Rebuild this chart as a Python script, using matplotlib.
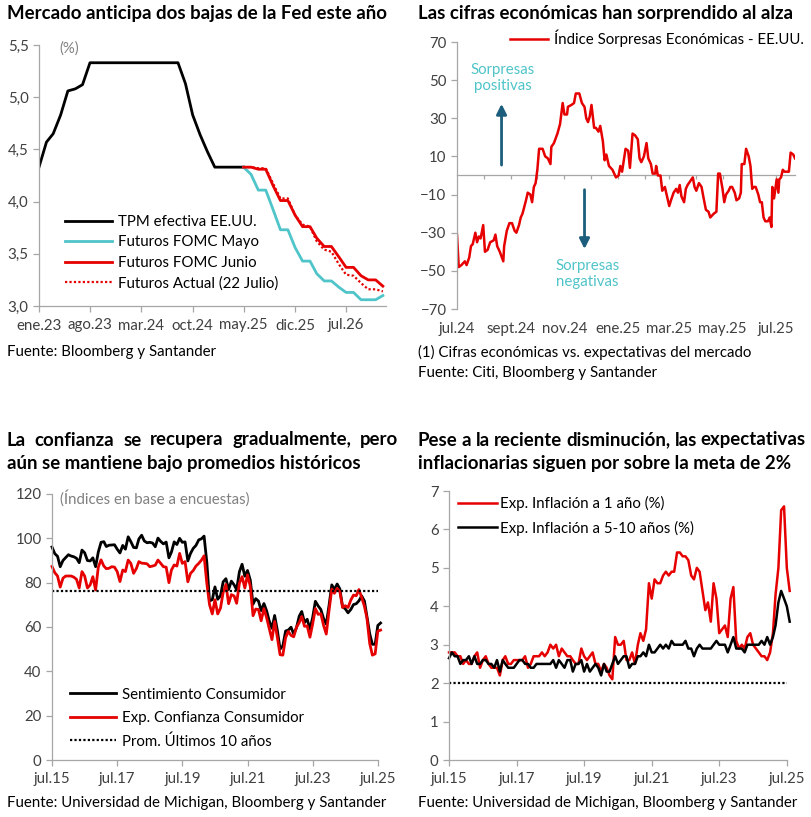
import numpy as np
import pandas as pd
import matplotlib
matplotlib.use("Agg")
import matplotlib.pyplot as plt

plt.rcParams['font.family'] = ['Lato', 'DejaVu Sans']

ROJO = '#E60000'
CIAN = '#4FC4C9'
AZUL_FLECHA = '#1D5E7C'
GRIS = '#A6A6A6'
TXT = '#404040'

# =========================
# Datos panel 1: TPM y futuros (mensual)
# =========================
tpm_fechas = pd.date_range('2023-01-01', '2025-05-01', freq='MS')
tpm_vals = [4.33, 4.57, 4.65, 4.83, 5.06, 5.08, 5.12, 5.33, 5.33, 5.33, 5.33, 5.33,
            5.33, 5.33, 5.33, 5.33, 5.33, 5.33, 5.33, 5.33, 5.13, 4.83, 4.64, 4.48,
            4.33, 4.33, 4.33, 4.33, 4.33]

fut_fechas = pd.date_range('2025-05-01', '2026-12-01', freq='MS')
fut_mayo = [4.33, 4.26, 4.11, 4.11, 3.92, 3.73, 3.73, 3.56, 3.43, 3.43,
            3.31, 3.24, 3.24, 3.18, 3.13, 3.13, 3.06, 3.06, 3.06, 3.10]
fut_junio = [4.33, 4.33, 4.31, 4.31, 4.15, 4.01, 4.01, 3.87, 3.76, 3.76,
             3.65, 3.57, 3.57, 3.47, 3.37, 3.37, 3.29, 3.25, 3.25, 3.19]
fut_actual = [4.33, 4.33, 4.32, 4.32, 4.17, 4.03, 4.03, 3.87, 3.78, 3.76,
              3.62, 3.54, 3.52, 3.40, 3.30, 3.29, 3.22, 3.16, 3.16, 3.14]

p1_ticks = ['2023-01-01', '2023-08-01', '2024-03-01', '2024-10-01',
            '2025-05-01', '2025-12-01', '2026-07-01']
p1_labels = ['ene.23', 'ago.23', 'mar.24', 'oct.24', 'may.25', 'dic.25', 'jul.26']

# =========================
# Datos panel 2: índice sorpresas Citi (días desde 1-jul-2024)
# =========================
sorp_dias = [0, 2, 5, 9, 11, 14, 16, 18, 21, 23, 25, 27, 30, 32, 35, 38, 42, 44, 46, 49,
             53, 54, 57, 60, 63, 66, 68, 71, 73, 75, 79, 81, 84, 86, 88, 90, 92, 94, 98, 101,
             104, 107, 108, 111, 115, 118, 121, 123, 126, 127, 131, 134, 136, 140, 143, 146, 148, 150, 152, 154,
             157, 159, 162, 164, 167, 169, 171, 174, 178, 182, 185, 187, 189, 193, 196, 198, 201, 204, 207, 209,
             211, 214, 217, 219, 222, 224, 227, 228, 230, 233, 235, 238, 240, 243, 245, 248, 251, 253, 255, 257,
             260, 262, 264, 267, 270, 272, 274, 277, 280, 282, 285, 288, 290, 294, 297, 299, 301, 304, 306, 308,
             311, 313, 315, 318, 320, 323, 325, 326, 329, 331, 334, 336, 338, 340, 342, 345, 347, 349, 351, 353,
             356, 358, 360, 361, 363, 366, 368, 369, 371, 373, 375, 378, 380, 382, 385, 387]
sorp_vals = [-31, -48, -47, -45, -47, -43, -37, -36, -30, -35, -32, -33, -26, -40, -39, -35, -34, -31, -37, -40,
             -45, -37, -29, -25, -25, -29, -30, -26, -22, -20, -13, -9, -10, -14, -6, -4, 3, 14, 14, 10,
             9, 6, 15, 17, 22, 27, 38, 32, 32, 36, 37, 38, 43, 43, 38, 36, 30, 28, 31, 37,
             25, 25, 23, 26, 18, 8, 11, 5, 3, -1, 0, 5, 2, 14, 13, 4, 22, 21, 19, 9,
             7, 10, 17, 9, 6, 1, 1, 5, 0, 0, -8, -6, -10, -16, -13, -9, -7, -9, -5, -11,
             -14, -7, -5, -3, -1, -6, -8, -4, -6, -11, -18, -19, -22, -20, -19, 1, 1, -7, -14, -10,
             -8, -6, -6, -9, -13, -12, -9, 6, 6, 14, 10, 5, -7, -6, -6, -10, -14, -14, -22, -24,
             -24, -22, -27, -6, -12, -2, -9, -2, -1, 3, 2, 2, 2, 12, 11, 9]

p2_ticks = ['2024-07-01', '2024-09-01', '2024-11-01', '2025-01-01',
            '2025-03-01', '2025-05-01', '2025-07-01']
p2_labels = ['jul.24', 'sept.24', 'nov.24', 'ene.25', 'mar.25', 'may.25', 'jul.25']

# =========================
# Datos panel 3 y 4: Universidad de Michigan (jun.15 - jul.25, mensual)
# =========================
umich_fechas = pd.date_range('2015-06-30', '2025-07-31', freq='ME')

sentimiento = [96.1, 93.1, 91.9, 87.2, 90.0, 91.3, 92.6,
               92.0, 91.7, 91.0, 89.0, 94.7, 93.5, 90.0, 89.8, 91.2, 87.2, 93.8, 98.2,
               98.5, 96.3, 96.9, 97.0, 97.1, 95.1, 93.4, 96.8, 95.1, 100.7, 98.5, 95.9,
               95.7, 99.7, 101.4, 98.8, 98.0, 98.2, 97.9, 96.2, 100.1, 98.6, 97.5, 98.3,
               91.2, 93.8, 98.4, 97.2, 100.0, 98.2, 98.4, 89.8, 93.2, 95.5, 96.8, 99.3,
               99.8, 101.0, 89.1, 71.8, 72.3, 78.1, 72.5, 74.1, 80.4, 81.8, 76.9, 80.7,
               79.0, 76.8, 84.9, 88.3, 82.9, 85.5, 81.2, 70.3, 72.8, 71.7, 67.4, 70.6,
               67.2, 62.8, 59.4, 65.2, 58.4, 50.0, 51.5, 58.2, 58.6, 59.9, 56.8, 59.7,
               64.9, 67.0, 62.0, 63.5, 59.0, 64.2, 71.6, 69.5, 67.9, 63.8, 61.3, 69.7,
               79.0, 76.9, 79.4, 77.2, 69.1, 68.2, 66.4, 67.9, 70.1, 70.5, 71.8, 74.0,
               71.7, 64.7, 57.0, 52.2, 52.2, 60.7, 61.8]
expectativas = [87.3, 84.5, 83.0, 78.0, 82.0, 83.0, 83.0,
                83.0, 82.5, 81.5, 77.6, 85.0, 83.0, 77.6, 79.0, 82.7, 76.7, 87.0, 90.3,
                87.5, 86.3, 86.5, 87.2, 87.0, 85.0, 80.5, 85.7, 85.0, 90.2, 88.7, 84.2,
                86.4, 89.5, 88.8, 88.7, 88.5, 87.2, 87.5, 87.9, 90.2, 88.7, 87.2, 87.0,
                80.0, 85.7, 88.0, 87.5, 93.2, 88.7, 89.5, 80.4, 84.2, 85.5, 87.5, 88.7,
                90.2, 92.1, 79.7, 70.1, 65.9, 72.3, 65.9, 68.5, 75.6, 79.2, 70.5, 74.6,
                74.0, 70.7, 79.7, 82.7, 77.6, 83.5, 78.4, 65.1, 68.1, 67.9, 62.8, 68.3,
                64.1, 59.4, 54.3, 62.5, 55.2, 47.5, 47.3, 55.2, 58.0, 56.2, 55.6, 59.9,
                62.0, 64.7, 60.3, 60.5, 55.4, 61.3, 68.3, 65.7, 66.0, 60.7, 56.8, 67.4,
                77.1, 75.2, 77.4, 76.0, 68.8, 69.6, 68.8, 72.1, 74.4, 74.1, 76.9, 73.3,
                69.3, 64.0, 52.6, 47.3, 47.9, 58.1, 58.6]
prom_10 = 76.4

infl_1a = [2.8, 2.8, 2.8, 2.7, 2.7, 2.5, 2.6,
           2.5, 2.5, 2.7, 2.8, 2.4, 2.6, 2.7, 2.5, 2.4, 2.4, 2.4, 2.2,
           2.6, 2.7, 2.5, 2.5, 2.6, 2.6, 2.6, 2.6, 2.7, 2.4, 2.5, 2.7,
           2.7, 2.7, 2.8, 2.7, 2.8, 3.0, 2.9, 3.0, 2.7, 2.9, 2.8, 2.7,
           2.7, 2.6, 2.5, 2.5, 2.9, 2.7, 2.6, 2.7, 2.8, 2.5, 2.5, 2.3,
           2.5, 2.4, 2.2, 2.1, 3.2, 3.0, 3.0, 3.1, 2.6, 2.6, 2.8, 2.5,
           3.0, 3.3, 3.1, 3.4, 4.6, 4.2, 4.7, 4.6, 4.6, 4.8, 4.9, 4.8,
           4.9, 4.9, 5.4, 5.4, 5.3, 5.3, 5.2, 4.8, 4.7, 5.0, 4.9, 4.4,
           3.9, 4.1, 3.6, 4.6, 4.2, 3.3, 3.4, 3.5, 3.2, 4.2, 4.5, 3.1,
           2.9, 3.0, 2.9, 3.2, 3.3, 3.0, 2.9, 2.8, 2.7, 2.7, 2.6, 2.8,
           3.3, 4.3, 5.0, 6.5, 6.6, 5.0, 4.4]
infl_5_10a = [2.65, 2.8, 2.7, 2.7, 2.5, 2.6, 2.6,
              2.7, 2.5, 2.7, 2.5, 2.5, 2.6, 2.6, 2.5, 2.5, 2.4, 2.6, 2.3,
              2.6, 2.5, 2.4, 2.4, 2.4, 2.5, 2.6, 2.6, 2.5, 2.5, 2.4, 2.4,
              2.5, 2.5, 2.5, 2.5, 2.5, 2.5, 2.6, 2.4, 2.6, 2.5, 2.4, 2.6,
              2.6, 2.3, 2.5, 2.5, 2.6, 2.3, 2.5, 2.3, 2.4, 2.5, 2.4, 2.2,
              2.5, 2.3, 2.3, 2.5, 2.7, 2.5, 2.6, 2.7, 2.7, 2.4, 2.5, 2.5,
              2.7, 2.7, 2.8, 2.7, 3.0, 2.8, 2.8, 2.9, 3.0, 2.9, 3.0, 2.9,
              3.1, 3.0, 3.0, 3.0, 3.0, 3.1, 2.9, 2.9, 2.7, 2.9, 3.0, 2.9,
              2.9, 2.9, 2.9, 3.0, 3.1, 3.0, 3.0, 3.0, 2.8, 3.0, 3.2, 2.9,
              2.9, 2.9, 2.8, 3.0, 3.0, 3.0, 3.0, 3.0, 3.1, 3.0, 3.2, 3.0,
              3.2, 3.5, 4.1, 4.4, 4.2, 4.0, 3.6]
meta_fed = 2.0

p34_ticks = ['2015-07-01', '2017-07-01', '2019-07-01', '2021-07-01', '2023-07-01', '2025-07-01']
p34_labels = ['jul.15', 'jul.17', 'jul.19', 'jul.21', 'jul.23', 'jul.25']

FS = 10.8  # texto general


def estilo(ax):
    for s in ['top', 'right']:
        ax.spines[s].set_visible(False)
    for s in ['left', 'bottom']:
        ax.spines[s].set_color(GRIS)
        ax.spines[s].set_linewidth(0.9)
    ax.tick_params(colors=GRIS, labelcolor=TXT, labelsize=FS, length=4, width=0.9)
    ax.tick_params(axis='x', pad=5)


W, H = 812, 817
fig = plt.figure(figsize=(W / 100, H / 100), dpi=100)


def caja(l, t, r, b):
    return [l / W, 1 - b / H, (r - l) / W, (b - t) / H]


def texto(x, y, s, **kw):
    return fig.text(x / W, 1 - y / H, s, va='center', ha='left', **kw)


def justificado(x0, x1, y, s, **kw):
    # reparte las palabras para que la línea ocupe de x0 a x1
    rend = fig.canvas.get_renderer()
    palabras = s.split()
    anchos = []
    for p in palabras:
        t = texto(0, 0, p, **kw)
        anchos.append(t.get_window_extent(rend).width)
        t.remove()
    hueco = (x1 - x0 - sum(anchos)) / (len(palabras) - 1)
    x = x0
    for p, a in zip(palabras, anchos):
        texto(x, y, p, **kw)
        x += a + hueco


# =========================
# Panel 1
# =========================
ax1 = fig.add_axes(caja(39, 45, 386, 306))
estilo(ax1)
ax1.plot(tpm_fechas, tpm_vals, color='black', lw=2, label='TPM efectiva EE.UU.')
ax1.plot(fut_fechas, fut_mayo, color=CIAN, lw=2, label='Futuros FOMC Mayo')
ax1.plot(fut_fechas, fut_junio, color=ROJO, lw=2, label='Futuros FOMC Junio')
ax1.plot(fut_fechas, fut_actual, color=ROJO, lw=1.6, ls=(0, (1, 1)), label='Futuros Actual (22 Julio)')
ax1.set_ylim(3.0, 5.5)
ax1.set_yticks(np.arange(3.0, 5.51, 0.5))
ax1.set_yticklabels([f'{v:.1f}'.replace('.', ',') for v in np.arange(3.0, 5.51, 0.5)])
ax1.set_xlim(pd.Timestamp('2023-01-01'), pd.Timestamp('2026-12-14'))
ax1.set_xticks(pd.to_datetime(p1_ticks))
ax1.set_xticklabels(p1_labels)
ax1.text(0.06, 0.985, '(%)', transform=ax1.transAxes, color='#808080', fontsize=FS, va='center')
ax1.legend(loc='upper left', bbox_to_anchor=(0.075, 0.348), frameon=False, fontsize=FS,
           handlelength=3.1, handletextpad=0.4, labelspacing=0.42, borderpad=0, borderaxespad=0)

# =========================
# Panel 2
# =========================
base = pd.Timestamp('2024-07-01')
sorp_fechas = base + pd.to_timedelta(sorp_dias, unit='D')
ax2 = fig.add_axes(caja(457, 42, 795, 309))
estilo(ax2)
ax2.spines['bottom'].set_visible(False)
ax2.plot(sorp_fechas, sorp_vals, color=ROJO, lw=1.8, label='Índice Sorpresas Económicas - EE.UU.')
ax2.set_ylim(-70, 70)
ax2.set_yticks(np.arange(-70, 71, 20))
ax2.set_xlim(base, base + pd.Timedelta(days=387))
ax2.set_xticks(pd.to_datetime(p2_ticks))
ax2.set_xticklabels(p2_labels)
ax2.tick_params(axis='x', length=0, pad=9)
eje0 = ax2.secondary_xaxis(0.5)
for s in eje0.spines.values():
    s.set_color(GRIS)
    s.set_linewidth(0.9)
eje0.set_xticks(pd.date_range('2024-08-01', '2025-07-01', freq='MS'))
eje0.set_xticklabels([])
eje0.tick_params(axis='x', colors=GRIS, length=3, width=0.9, direction='in')
ax2.annotate('', xy=(base + pd.Timedelta(days=51), 39), xytext=(base + pd.Timedelta(days=51), 4),
             arrowprops=dict(arrowstyle='-|>', color=AZUL_FLECHA, lw=2, mutation_scale=15))
ax2.annotate('', xy=(base + pd.Timedelta(days=146), -40), xytext=(base + pd.Timedelta(days=146), -6),
             arrowprops=dict(arrowstyle='-|>', color=AZUL_FLECHA, lw=2, mutation_scale=15))
ax2.text(base + pd.Timedelta(days=52), 51, 'Sorpresas\npositivas', color=CIAN, fontsize=FS,
         ha='center', va='center', linespacing=1.15)
ax2.text(base + pd.Timedelta(days=149), -51.5, 'Sorpresas\nnegativas', color=CIAN, fontsize=FS,
         ha='center', va='center', linespacing=1.15)
ax2.legend(loc='upper right', bbox_to_anchor=(1.025, 1.045), frameon=False, fontsize=FS,
           handlelength=2.5, handletextpad=0.4, borderpad=0, borderaxespad=0)

# =========================
# Panel 3
# =========================
ax3 = fig.add_axes(caja(52, 494, 378, 760))
estilo(ax3)
ax3.plot(umich_fechas, sentimiento, color='black', lw=2, clip_on=False, label='Sentimiento Consumidor')
ax3.plot(umich_fechas, expectativas, color=ROJO, lw=2, clip_on=False, label='Exp. Confianza Consumidor')
ax3.axhline(prom_10, color='black', lw=1.6, ls=(0, (1, 1)), label='Prom. Últimos 10 años')
ax3.set_ylim(0, 120)
ax3.set_yticks(np.arange(0, 121, 20))
ax3.set_xlim(pd.Timestamp('2015-06-30'), pd.Timestamp('2025-07-02'))
ax3.set_xticks(pd.to_datetime(p34_ticks))
ax3.set_xticklabels(p34_labels)
ax3.text(0.025, 0.985, '(Índices en base a encuestas)', transform=ax3.transAxes, color='#808080',
         fontsize=FS, va='center')
ax3.legend(loc='upper left', bbox_to_anchor=(0.055, 0.272), frameon=False, fontsize=FS,
           handlelength=3.1, handletextpad=0.4, labelspacing=0.62, borderpad=0, borderaxespad=0)

# =========================
# Panel 4
# =========================
ax4 = fig.add_axes(caja(449, 491, 787, 760))
estilo(ax4)
ax4.plot(umich_fechas, infl_1a, color=ROJO, lw=1.8, clip_on=False, label='Exp. Inflación a 1 año (%)')
ax4.plot(umich_fechas, infl_5_10a, color='black', lw=1.8, clip_on=False, label='Exp. Inflación a 5-10 años (%)')
ax4.axhline(meta_fed, color='black', lw=1.6, ls=(0, (1, 1)))
ax4.set_ylim(0, 7)
ax4.set_yticks(np.arange(0, 8, 1))
ax4.set_xlim(pd.Timestamp('2015-06-30'), pd.Timestamp('2025-07-02'))
ax4.set_xticks(pd.to_datetime(p34_ticks))
ax4.set_xticklabels(p34_labels)
ax4.legend(loc='upper left', bbox_to_anchor=(0.027, 0.981), frameon=False, fontsize=FS,
           handlelength=2.6, handletextpad=0.2, labelspacing=0.62, borderpad=0, borderaxespad=0)

# =========================
# Títulos y fuentes
# =========================
tit = dict(fontsize=13.4, fontweight='bold', color='black')
texto(7, 14, 'Mercado anticipa dos bajas de la Fed este año', **tit)
texto(418, 14, 'Las cifras económicas han sorprendido al alza', **tit)
justificado(7, 398, 440, 'La confianza se recupera gradualmente, pero', **tit)
texto(7, 464, 'aún se mantiene bajo promedios históricos', **tit)
justificado(418, 806, 440, 'Pese a la reciente disminución, las expectativas', **tit)
texto(418, 464, 'inflacionarias siguen por sobre la meta de 2%', **tit)

fte = dict(fontsize=FS, color='black')
texto(7, 352, 'Fuente: Bloomberg y Santander', **fte)
texto(418, 352, '(1) Cifras económicas vs. expectativas del mercado', **fte)
texto(418, 373, 'Fuente: Citi, Bloomberg y Santander', **fte)
texto(7, 803, 'Fuente: Universidad de Michigan, Bloomberg y Santander', **fte)
texto(418, 803, 'Fuente: Universidad de Michigan, Bloomberg y Santander', **fte)

plt.savefig('out.png', dpi=100)
